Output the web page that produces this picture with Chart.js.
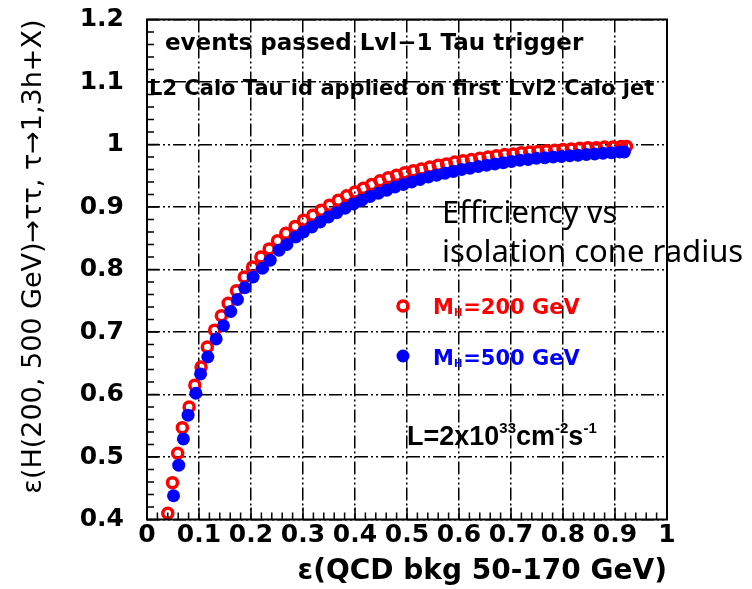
<!DOCTYPE html>
<html>
<head>
<meta charset="utf-8">
<script src="https://cdn.jsdelivr.net/npm/chart.js@4/dist/chart.umd.min.js"></script>
<style>
  body { margin: 0; background: #fff; }
  #wrap { width: 752px; height: 589px; }
</style>
</head>
<body>
<div id="wrap"><canvas id="myChart" width="752" height="589"></canvas></div>
<script>
// M_H = 200 GeV (open red circles)
const redX = [0.040, 0.049, 0.059, 0.068, 0.081, 0.092, 0.104, 0.116, 0.130, 0.143,
  0.156, 0.172, 0.187, 0.203, 0.219, 0.235, 0.251, 0.267, 0.285, 0.301,
  0.319, 0.335, 0.351, 0.368, 0.384, 0.400, 0.416, 0.432, 0.448, 0.464,
  0.480, 0.496, 0.512, 0.528, 0.544, 0.560, 0.576, 0.592, 0.608, 0.624,
  0.640, 0.656, 0.672, 0.688, 0.704, 0.720, 0.736, 0.752, 0.768, 0.784,
  0.800, 0.816, 0.832, 0.848, 0.864, 0.880, 0.896, 0.912, 0.922];
const redY = [0.410, 0.459, 0.506, 0.547, 0.580, 0.615, 0.644, 0.676, 0.703, 0.726,
  0.746, 0.766, 0.788, 0.804, 0.820, 0.833, 0.846, 0.858, 0.869, 0.879,
  0.887, 0.895, 0.903, 0.911, 0.918, 0.924, 0.930, 0.936, 0.942, 0.947,
  0.951, 0.955, 0.958, 0.961, 0.964, 0.967, 0.969, 0.972, 0.974, 0.976,
  0.978, 0.980, 0.982, 0.984, 0.985, 0.987, 0.988, 0.989, 0.990, 0.991,
  0.992, 0.993, 0.994, 0.995, 0.995, 0.996, 0.996, 0.997, 0.997];

// M_H = 500 GeV (filled blue circles)
const blueX = [0.051, 0.061, 0.070, 0.079, 0.094, 0.103, 0.117, 0.133, 0.147, 0.161,
  0.174, 0.188, 0.204, 0.222, 0.237, 0.254, 0.269, 0.286, 0.301, 0.317,
  0.333, 0.349, 0.365, 0.381, 0.397, 0.413, 0.429, 0.445, 0.461, 0.477,
  0.493, 0.509, 0.525, 0.541, 0.557, 0.573, 0.589, 0.605, 0.621, 0.637,
  0.653, 0.669, 0.685, 0.701, 0.717, 0.733, 0.749, 0.765, 0.781, 0.797,
  0.813, 0.829, 0.845, 0.861, 0.877, 0.893, 0.909, 0.918];
const blueY = [0.438, 0.487, 0.529, 0.567, 0.602, 0.633, 0.660, 0.689, 0.710, 0.733,
  0.752, 0.771, 0.788, 0.802, 0.815, 0.831, 0.840, 0.852, 0.860, 0.868,
  0.876, 0.884, 0.891, 0.898, 0.905, 0.911, 0.917, 0.922, 0.927, 0.932,
  0.936, 0.940, 0.944, 0.948, 0.951, 0.954, 0.957, 0.960, 0.962, 0.965,
  0.967, 0.969, 0.971, 0.973, 0.975, 0.976, 0.978, 0.979, 0.980, 0.981,
  0.982, 0.983, 0.984, 0.985, 0.986, 0.987, 0.988, 0.988];

const seriesNames = ["M_H=200 GeV", "M_H=500 GeV"];
const xTitle = "\u03b5(QCD bkg 50-170 GeV)";
const yTitle = "\u03b5(H(200, 500 GeV)\u2192\u03c4\u03c4, \u03c4\u21921,3h+X)";
const xRange = [0, 1];
const yRange = [0.4, 1.2];

const toPoints = (xs, ys) => xs.map((x, i) => ({ x: x, y: ys[i] }));
const fmt = v => {
  const r = Math.round(v * 10) / 10;
  return Number.isInteger(r) ? String(r) : r.toFixed(1);
};

// frame, minor ticks, texts and the in-plot legend
const decor = {
  id: "decor",
  afterDatasetsDraw(chart) {
    const ctx = chart.ctx;
    const a = chart.chartArea;
    const xs = chart.scales.x, ys = chart.scales.y;
    ctx.save();
    ctx.strokeStyle = "#000";
    ctx.lineWidth = 1.5;
    ctx.beginPath();
    for (let k = 0; k <= 50; k++) {
      const px = xs.getPixelForValue(k * 0.02);
      const len = k % 5 === 0 ? 12 : 7;
      ctx.moveTo(px, a.bottom);
      ctx.lineTo(px, a.bottom - len);
    }
    for (let k = 0; k <= 40; k++) {
      const py = ys.getPixelForValue(0.4 + k * 0.02);
      const len = k % 5 === 0 ? 12 : 7;
      ctx.moveTo(a.left, py);
      ctx.lineTo(a.left + len, py);
    }
    ctx.stroke();
    ctx.lineWidth = 2;
    ctx.strokeRect(a.left, a.top, a.right - a.left, a.bottom - a.top);

    ctx.fillStyle = "#000";
    ctx.textBaseline = "alphabetic";
    ctx.textAlign = "left";
    ctx.font = "bold 23px 'DejaVu Sans'";
    ctx.fillText("events passed Lvl\u22121 Tau trigger", 165, 50);
    ctx.font = "bold 21px 'DejaVu Sans'";
    ctx.fillText("L2 Calo Tau id applied on first Lvl2 Calo jet", 149, 95);

    ctx.font = "31px 'Noto Sans'";
    ctx.fillText("Efficiency vs", 442, 223);
    ctx.fillText("isolation cone radius", 442, 262);

    // legend
    const ds = chart.data.datasets;
    const legendRows = [[306, 314], [356, 365]];
    ds.forEach((d, i) => {
      const [cy, base] = legendRows[i];
      ctx.beginPath();
      ctx.arc(403, cy, d.pointRadius, 0, Math.PI * 2);
      if (i === 0) {
        ctx.lineWidth = d.borderWidth;
        ctx.strokeStyle = d.borderColor;
        ctx.stroke();
      } else {
        ctx.fillStyle = d.backgroundColor;
        ctx.fill();
      }
      const parts = d.label.split("_");
      const rest = parts[1].slice(1);
      ctx.fillStyle = d.borderColor;
      ctx.font = "bold 21px 'DejaVu Sans'";
      let x = 433;
      ctx.fillText(parts[0], x, base);
      x += ctx.measureText(parts[0]).width;
      ctx.font = "bold 10px 'DejaVu Sans'";
      ctx.fillText(parts[1][0], x, base + 2);
      x += ctx.measureText(parts[1][0]).width + 1;
      ctx.font = "bold 21px 'DejaVu Sans'";
      ctx.fillText(rest, x, base);
    });

    // luminosity
    ctx.fillStyle = "#000";
    const pieces = [["L=2x10", 0], ["33", 1], ["cm", 0], ["-2", 1], ["s", 0], ["-1", 1]];
    let lx = 407;
    pieces.forEach(([t, sup]) => {
      ctx.font = sup ? "bold 15px 'Liberation Sans'" : "bold 27px 'Liberation Sans'";
      ctx.fillText(t, lx, sup ? 433 : 445);
      lx += ctx.measureText(t).width;
    });
    ctx.restore();
  }
};

new Chart(document.getElementById("myChart"), {
  type: "scatter",
  data: {
    datasets: [
      {
        label: seriesNames[0],
        data: toPoints(redX, redY),
        pointStyle: "circle",
        pointRadius: 5,
        borderWidth: 3.5,
        borderColor: "#ff0000",
        backgroundColor: "rgba(255,255,255,0)",
        order: 1
      },
      {
        label: seriesNames[1],
        data: toPoints(blueX, blueY),
        pointStyle: "circle",
        pointRadius: 6.5,
        borderWidth: 0,
        borderColor: "#0000ff",
        backgroundColor: "#0000ff",
        order: 0
      }
    ]
  },
  options: {
    responsive: false,
    animation: false,
    devicePixelRatio: 1,
    layout: { padding: { top: 19.5, right: 85, left: 0, bottom: 0 } },
    scales: {
      x: {
        type: "linear",
        min: xRange[0],
        max: xRange[1],
        afterFit: s => { s.height = 69.5; },
        grid: { color: "#000", lineWidth: 1.5, drawTicks: false },
        border: { display: false, dash: [13, 3, 2, 3, 2, 3] },
        ticks: {
          stepSize: 0.1,
          autoSkip: false,
          maxRotation: 0,
          minRotation: 0,
          padding: 1,
          color: "#000",
          font: { family: "DejaVu Sans", size: 25, weight: "bold" },
          callback: v => fmt(v)
        },
        title: {
          display: true,
          text: xTitle,
          align: "end",
          color: "#000",
          padding: { top: 0, bottom: 0 },
          font: { family: "DejaVu Sans", size: 28, weight: "bold" }
        }
      },
      y: {
        type: "linear",
        min: yRange[0],
        max: yRange[1],
        afterFit: s => { s.width = 147; },
        grid: { color: "#000", lineWidth: 1.5, drawTicks: true, tickLength: 22, tickColor: "rgba(0,0,0,0)" },
        border: { display: false, dash: [13, 3, 2, 3, 2, 3] },
        ticks: {
          stepSize: 0.1,
          autoSkip: false,
          padding: 1,
          color: "#000",
          font: { family: "DejaVu Sans", size: 25, weight: "bold" },
          callback: v => fmt(v)
        },
        title: {
          display: true,
          text: yTitle,
          align: "end",
          color: "#000",
          padding: { top: 18, bottom: 0 },
          font: { family: "DejaVu Sans", size: 27, weight: "normal" }
        }
      }
    },
    plugins: {
      legend: { display: false },
      tooltip: { enabled: false }
    }
  },
  plugins: [decor]
});
</script>
</body>
</html>
